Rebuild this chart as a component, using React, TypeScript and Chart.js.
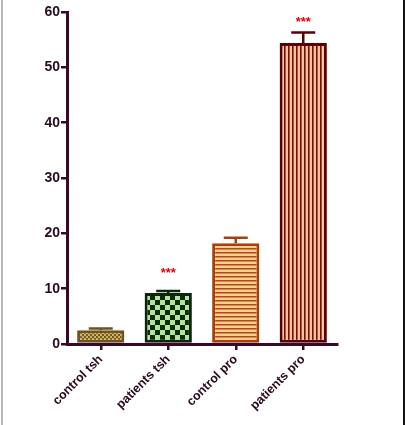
import React, { useEffect, useRef } from 'react';
import { Chart, registerables } from 'chart.js';

Chart.register(...registerables);

// values
const categories = ['control tsh', 'patients tsh', 'control pro', 'patients pro'];
const means = [2.5, 9.2, 18.2, 54.4];
const sems = [0.3, 0.4, 1.0, 1.9];
const stars = ['', '***', '', '***'];
const starLevels = [0, 12.8, 0, 58.2];
const yTicks = [0, 10, 20, 30, 40, 50, 60];

const borders = ['#6b5520', '#0c260c', '#a8400c', '#5a0004'];
const AXIS = '#3a0828';

function pattern(w: number, h: number, draw: (g: CanvasRenderingContext2D) => void) {
  const c = document.createElement('canvas');
  c.width = w;
  c.height = h;
  const g = c.getContext('2d')!;
  draw(g);
  return g.createPattern(c, 'repeat')!;
}

function checker(cell: number, a: string, b: string) {
  return pattern(cell * 2, cell * 2, g => {
    g.fillStyle = a;
    g.fillRect(0, 0, cell * 2, cell * 2);
    g.fillStyle = b;
    g.fillRect(0, 0, cell, cell);
    g.fillRect(cell, cell, cell, cell);
  });
}

function hLines(period: number, bg: string, line: string) {
  return pattern(4, period, g => {
    g.fillStyle = bg;
    g.fillRect(0, 0, 4, period);
    g.fillStyle = line;
    g.fillRect(0, 0, 4, 1.5);
  });
}

function vLines(period: number, bg: string, line: string) {
  return pattern(period, 4, g => {
    g.fillStyle = bg;
    g.fillRect(0, 0, period, 4);
    g.fillStyle = line;
    g.fillRect(0, 0, 1.6, 4);
  });
}

const extras = {
  id: 'extras',
  beforeDraw(chart: any) {
    const { ctx, width, height } = chart;
    ctx.save();
    ctx.fillStyle = '#b8b8b8';
    ctx.fillRect(1, 0, 2, height);
    ctx.fillStyle = '#111';
    ctx.fillRect(width - 2, 0, 2, height);
    ctx.restore();
  },
  afterDatasetsDraw(chart: any) {
    const { ctx } = chart;
    const y = chart.scales.y;
    const meta = chart.getDatasetMeta(0);
    ctx.save();
    meta.data.forEach((bar: any, i: number) => {
      const top = y.getPixelForValue(means[i] + sems[i]);
      const base = y.getPixelForValue(means[i]);
      ctx.strokeStyle = borders[i];
      ctx.lineWidth = 2.5;
      ctx.beginPath();
      ctx.moveTo(bar.x, base);
      ctx.lineTo(bar.x, top);
      ctx.moveTo(bar.x - 12, top);
      ctx.lineTo(bar.x + 12, top);
      ctx.stroke();
      if (stars[i]) {
        ctx.fillStyle = '#e00000';
        ctx.font = 'bold 13px "Liberation Sans", Arial, sans-serif';
        ctx.textAlign = 'center';
        ctx.textBaseline = 'middle';
        ctx.fillText(stars[i], bar.x, y.getPixelForValue(starLevels[i]));
      }
    });
    ctx.restore();
  },
};

export default function App() {
  const ref = useRef<HTMLCanvasElement>(null);
  useEffect(() => {
    document.body.style.margin = '0';
    if (!ref.current) return;
    const fills = [
      checker(2, '#d4b058', '#6e5a22'),
      checker(5, '#0c2a0c', '#b4e49c'),
      hLines(4, '#f8cc90', '#b04a14'),
      vLines(4, '#f0c49c', '#7a0a0a'),
    ];
    const chart = new Chart(ref.current, {
      type: 'bar',
      data: {
        labels: categories,
        datasets: [{
          data: means,
          backgroundColor: fills as any,
          borderColor: borders,
          borderWidth: 3,
          borderSkipped: false,
          barPercentage: 0.7,
          categoryPercentage: 1,
        }],
      },
      options: {
        animation: false,
        responsive: true,
        maintainAspectRatio: false,
        layout: { padding: { left: 0, right: 68, top: 12, bottom: 0 } },
        plugins: { legend: { display: false }, tooltip: { enabled: false } },
        scales: {
          x: {
            offset: true,
            grid: { display: true, drawOnChartArea: false, drawTicks: true, tickLength: 6, offset: false, color: AXIS, lineWidth: 2.5 },
            border: { display: true, color: AXIS, width: 3 },
            ticks: {
              minRotation: 45,
              maxRotation: 45,
              padding: 2,
              color: '#2a0a20',
              font: { family: '"Liberation Sans", Arial, sans-serif', size: 12.5, weight: 'bold' },
            },
            afterFit: (s: any) => { s.height = 81; },
          },
          y: {
            min: 0,
            max: 60,
            afterBuildTicks: (s: any) => { s.ticks = yTicks.map(v => ({ value: v })); },
            grid: { display: true, drawOnChartArea: false, drawTicks: true, tickLength: 6, color: AXIS, lineWidth: 2.5 },
            border: { display: true, color: AXIS, width: 3 },
            ticks: {
              padding: 1,
              color: '#2a0a20',
              font: { family: '"Liberation Sans", Arial, sans-serif', size: 14, weight: 'bold' },
            },
            afterFit: (s: any) => { s.width = 67; },
          },
        },
      },
      plugins: [extras],
    });
    return () => chart.destroy();
  }, []);
  return (
    <div style={{ width: 405, height: 425, background: '#fff' }}>
      <canvas ref={ref} />
    </div>
  );
}
